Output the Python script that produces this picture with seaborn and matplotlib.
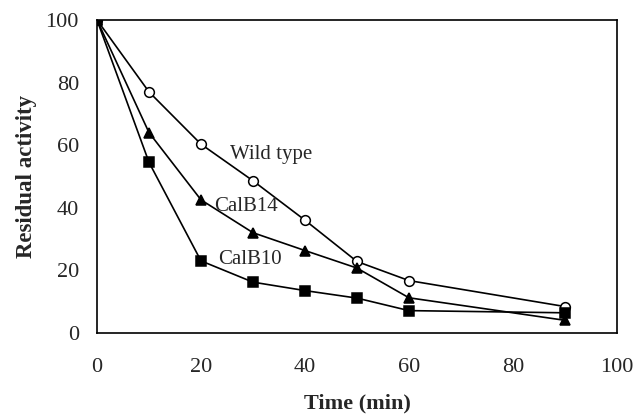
import matplotlib
matplotlib.use("Agg")
import matplotlib.pyplot as plt
import seaborn as sns

# data
time_min = [0, 10, 20, 30, 40, 50, 60, 90]
wild_type = [100, 77, 60.3, 48.6, 36, 22.8, 16.7, 8.4]
calb14 = [100, 64, 42.5, 32, 26.3, 20.7, 11.2, 4]
calb10 = [100, 54.5, 23, 16.2, 13.5, 11.1, 7.1, 6.4]

x_ticks = [0, 20, 40, 60, 80, 100]
y_ticks = [0, 20, 40, 60, 80, 100]

sns.set_style("white")
plt.rcParams['font.family'] = ['Liberation Serif', 'DejaVu Serif']

fig = plt.figure(figsize=(6.36, 4.15), dpi=100)
ax = fig.add_axes([0.1525, 0.198, 0.8175, 0.754])

line_kw = dict(color='black', linewidth=1.2, markeredgecolor='black',
               markeredgewidth=1.1, markersize=7)
sns.lineplot(x=time_min, y=wild_type, marker='o', markerfacecolor='white', ax=ax, **line_kw)
sns.lineplot(x=time_min, y=calb14, marker='^', markerfacecolor='black', ax=ax, **line_kw)
sns.lineplot(x=time_min, y=calb10, marker='s', markerfacecolor='black', ax=ax, **line_kw)

# series labels next to the curves
ax.text(25.5, 57, 'Wild type', fontsize=15, va='center', ha='left')
ax.text(22.6, 40.3, 'CalB14', fontsize=15, va='center', ha='left')
ax.text(23.3, 23.3, 'CalB10', fontsize=15, va='center', ha='left')

ax.set_xlim(0, 100)
ax.set_ylim(0, 100)
ax.set_xticks(x_ticks)
ax.set_yticks(y_ticks)
ax.tick_params(axis='both', labelsize=16, length=0)
ax.tick_params(axis='y', pad=13)
ax.tick_params(axis='x', pad=18)

for side in ax.spines.values():
    side.set_color('black')
    side.set_linewidth(1.2)

ax.set_xlabel('Time (min)', fontsize=16, fontweight='bold', labelpad=12)
ax.set_ylabel('Residual activity', fontsize=16.5, fontweight='bold', labelpad=6)

fig.savefig('out.png', dpi=100)
